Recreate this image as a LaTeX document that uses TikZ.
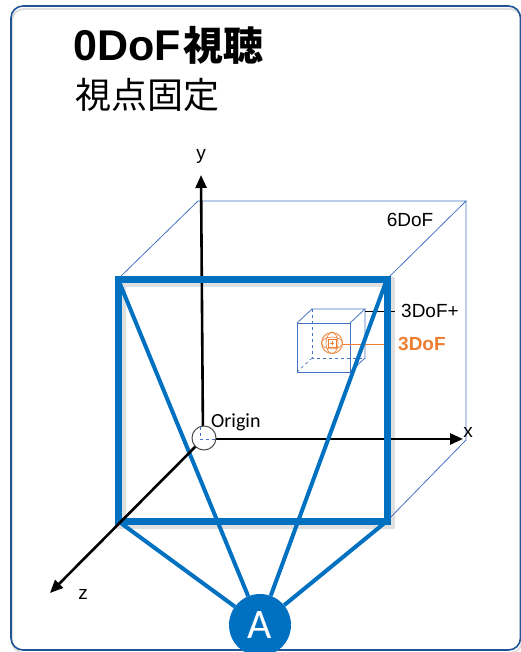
\documentclass[tikz,border=0pt]{standalone}
\usepackage{fontspec}
\setmainfont{Liberation Sans}
\newfontfamily\jpfont{Noto Sans CJK JP}
\newfontfamily\califont{Carlito}
\usetikzlibrary{arrows.meta,calc}
\definecolor{framecol}{HTML}{1F5597}
\definecolor{cubeblue}{HTML}{4472C4}
\definecolor{sqblue}{HTML}{0070C0}
\definecolor{orng}{HTML}{ED7D31}
\begin{document}
\begin{tikzpicture}[x=1pt,y=-1pt,
  thinline/.style={draw=cubeblue,line width=0.8pt},
  axisline/.style={line width=2.6pt,-{Triangle[length=13pt,width=11pt]}},
  frust/.style={draw=sqblue,line width=4pt},
  lbl/.style={font=\fontsize{19}{19}\selectfont,inner sep=0pt}]
\useasboundingbox (0,0) rectangle (521,652);
% frame
\draw[black!12,line width=2pt,rounded corners=12pt] (12,9) rectangle (522,653);
\draw[framecol,line width=1.6pt,rounded corners=12pt] (11,6) rectangle (520.5,650);
% title
\node[anchor=base west,inner sep=0pt] (title) at (73,61) {\fontsize{43}{43}\selectfont\bfseries 0DoF\hspace{3pt}\jpfont\fontsize{40}{40}\selectfont 視聴};
\node[anchor=base west,inner sep=0pt,font=\jpfont\fontsize{36}{36}\selectfont] (sub) at (75,109) {視点固定};
% cube corners
\coordinate (BTL) at (198,201);
\coordinate (BTR) at (466,201);
\coordinate (BBR) at (466,440);
\coordinate (FTL) at (118,279);
\coordinate (FTR) at (387,279);
\coordinate (FBR) at (387,521);
\coordinate (FBL) at (118,521);
\draw[thinline] (FTL) -- (BTL) -- (BTR) -- (FTR);
\draw[thinline] (BTR) -- (BBR) -- (FBR);
\node[lbl] (six) at (410,220) {6DoF};
% axes
\coordinate (O) at (203,439);
\coordinate (Ytip) at (201,175);
\coordinate (Xtip) at (463,439);
\coordinate (Ztip) at (50,593);
\draw[axisline] (O) -- (Ytip);
\draw[axisline] (O) -- (Xtip);
\node[lbl] (ylab) at (201,156) {y};
\node[lbl] (xlab) at (468,432) {x};
\node[lbl] (zlab) at (83,594) {z};
% small cube
\coordinate (a1) at (297,323); \coordinate (a2) at (350,323);
\coordinate (a3) at (350,372); \coordinate (a4) at (297,372);
\coordinate (b1) at (312,309); \coordinate (b2) at (365,309);
\coordinate (b3) at (365,358); \coordinate (b4) at (312,358);
\draw[cubeblue,line width=0.6pt,dashed] (b1) -- (b4) -- (b3);
\draw[cubeblue,line width=0.6pt,dashed] (b4) -- (a4);
\draw[thinline] (a1) rectangle (a3);
\draw[thinline] (a1) -- (b1) -- (b2) -- (a2);
\draw[thinline] (b2) -- (b3) -- (a3);
% sphere
\coordinate (S) at (332,343);
\draw[orng,line width=0.8pt] (S) circle (10.5pt);
\draw[orng,line width=0.6pt] (S) ellipse (6pt and 10.5pt);
\draw[orng,line width=0.6pt] (S) ellipse (10.5pt and 6pt);
\draw[orng,line width=0.6pt,fill=white] ($(S)+(-4,-4)$) rectangle ($(S)+(4,4)$);
\draw[orng,line width=0.5pt] ($(S)+(-2,0)$) -- ($(S)+(2,0)$) ($(S)+(0,-2)$) -- ($(S)+(0,2)$);
% leaders
\coordinate (L1a) at (365,311); \coordinate (L1b) at (395,311);
\draw[black,line width=0.8pt] (L1a) -- (L1b);
\node[lbl,anchor=west] (tdp) at (401,311) {3DoF+};
\coordinate (L2a) at (343,344); \coordinate (L2b) at (384,344);
\draw[orng,line width=0.8pt] (L2a) -- (L2b);
\node[lbl,anchor=west,text=orng,font=\bfseries\fontsize{19}{19}\selectfont] (td) at (398,344) {3DoF};
% square shadow
\draw[black,opacity=0.12,line width=10pt] ($(FTL)+(3,3)$) rectangle ($(FBR)+(3,3)$);
% A circle
\node[circle,fill=sqblue,minimum size=62pt,inner sep=0pt,text=white,font=\califont\fontsize{42}{42}\selectfont] (A) at (260,625) {A};
\draw[frust] (A) -- (FBL);
\draw[frust] (A) -- (FBR);
\draw[frust] (A) -- (FTL);
\draw[frust] (A) -- (FTR);
\draw[sqblue,line width=7pt] (FTL) rectangle (FBR);
\draw[axisline] (O) -- (Ztip);
% origin
\node[circle,draw=black!70,fill=white,line width=1pt,minimum size=24pt,inner sep=0pt] (Oc) at (204,438) {};
\draw[cubeblue,dashed,line width=0.5pt] ($(O)+(-3,-12)$) -- ($(O)+(-3,0)$) -- ($(O)+(12,0)$);
\node[lbl,anchor=west,font=\califont\fontsize{20}{20}\selectfont] (olab) at (211,422) {Origin};
\end{tikzpicture}
\end{document}
